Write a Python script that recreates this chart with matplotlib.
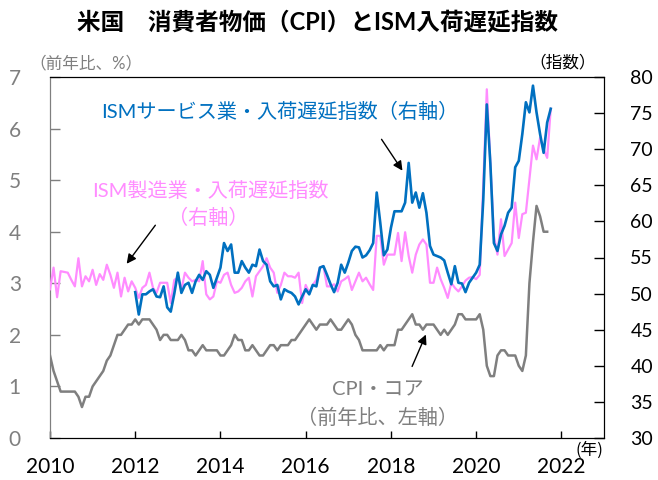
import matplotlib
matplotlib.use("Agg")
import matplotlib.pyplot as plt
import numpy as np

plt.rcParams['font.family'] = ['Lato', 'Noto Sans CJK JP', 'DejaVu Sans']

# monthly data, first point = Jan of start year
cpi_start = 2010
cpi_core = [1.6, 1.3, 1.1, 0.9, 0.9, 0.9, 0.9, 0.9, 0.8, 0.6, 0.8, 0.8,
            1.0, 1.1, 1.2, 1.3, 1.5, 1.6, 1.8, 2.0, 2.0, 2.1, 2.2, 2.2,
            2.3, 2.2, 2.3, 2.3, 2.3, 2.2, 2.1, 1.9, 2.0, 2.0, 1.9, 1.9,
            1.9, 2.0, 1.9, 1.7, 1.7, 1.6, 1.7, 1.8, 1.7, 1.7, 1.7, 1.7,
            1.6, 1.6, 1.7, 1.8, 2.0, 1.9, 1.9, 1.7, 1.7, 1.8, 1.7, 1.6,
            1.6, 1.7, 1.8, 1.8, 1.7, 1.8, 1.8, 1.8, 1.9, 1.9, 2.0, 2.1,
            2.2, 2.3, 2.2, 2.1, 2.2, 2.2, 2.2, 2.3, 2.2, 2.1, 2.1, 2.2,
            2.3, 2.2, 2.0, 1.9, 1.7, 1.7, 1.7, 1.7, 1.7, 1.8, 1.7, 1.8,
            1.8, 1.8, 2.1, 2.1, 2.2, 2.3, 2.4, 2.2, 2.2, 2.1, 2.2, 2.2,
            2.2, 2.1, 2.0, 2.1, 2.0, 2.1, 2.2, 2.4, 2.4, 2.3, 2.3, 2.3,
            2.3, 2.4, 2.1, 1.4, 1.2, 1.2, 1.6, 1.7, 1.7, 1.6, 1.6, 1.6,
            1.4, 1.3, 1.6, 3.0, 3.8, 4.5, 4.3, 4.0, 4.0]

mfg_start = 2010
ism_mfg = [50.6, 53.6, 49.5, 53.1, 53.0, 52.9, 51.9, 51.0, 54.9, 51.0, 52.4, 51.7,
           53.3, 51.2, 52.7, 51.9, 54.0, 52.6, 50.8, 52.9, 49.6, 52.2, 50.3, 51.7,
           50.8, 49.4, 50.8, 51.2, 52.9, 50.8, 50.1, 51.5, 51.5, 51.5, 48.7, 51.9,
           52.2, 50.6, 52.9, 52.2, 51.7, 51.9, 51.7, 54.5, 49.9, 49.2, 49.6, 51.7,
           51.5, 52.6, 52.9, 51.2, 50.1, 50.3, 50.8, 51.7, 52.2, 49.6, 52.4, 53.1,
           53.8, 54.9, 53.6, 52.9, 50.1, 51.2, 52.9, 52.4, 52.4, 52.2, 52.9, 48.7,
           51.2, 50.1, 51.2, 51.9, 53.6, 53.8, 51.0, 51.0, 51.3, 50.3, 51.7, 52.0,
           52.4, 50.5, 51.7, 52.9, 51.7, 52.2, 51.3, 50.5, 58.0, 58.0, 54.0, 55.4,
           55.4, 55.4, 58.4, 54.5, 58.5, 55.2, 52.9, 55.4, 56.8, 57.5, 56.8, 51.5,
           51.5, 53.6, 52.0, 50.8, 49.4, 51.5, 50.8, 50.3, 51.0, 51.8, 52.2, 52.3,
           52.0, 52.6, 65.0, 78.3, 68.0, 58.0, 55.4, 60.3, 55.2, 56.1, 57.0, 62.6,
           57.7, 61.0, 61.2, 65.8, 70.5, 68.6, 71.6, 70.0, 68.8, 75.6]

svc_start = 2012
ism_svc = [50.2, 47.1, 49.9, 49.9, 50.3, 50.6, 49.6, 49.5, 51.0, 48.1, 47.5, 50.0,
           52.9, 50.1, 51.2, 51.5, 50.1, 51.7, 52.6, 51.9, 53.1, 52.6, 50.8, 52.2,
           53.6, 57.0, 55.9, 56.8, 52.9, 52.9, 54.5, 53.6, 52.9, 54.0, 53.8, 56.1,
           54.5, 54.0, 51.7, 51.0, 51.2, 49.2, 50.6, 50.3, 50.1, 49.6, 48.5, 49.6,
           50.6, 49.9, 51.2, 51.0, 53.6, 53.8, 52.6, 51.3, 50.2, 51.5, 54.0, 52.9,
           54.3, 55.9, 56.5, 56.4, 55.0, 55.3, 56.0, 57.0, 64.0, 59.8, 55.3, 56.1,
           59.1, 61.4, 61.4, 61.4, 62.6, 68.1, 62.6, 64.0, 61.9, 63.9, 61.2, 56.6,
           55.4, 55.2, 55.0, 54.6, 52.9, 51.3, 53.8, 51.5, 51.4, 50.2, 51.5, 52.2,
           52.9, 54.0, 63.0, 76.2, 68.0, 57.0, 55.9, 58.2, 59.4, 61.2, 61.9, 67.5,
           68.4, 72.1, 76.5, 75.1, 78.8, 75.1, 72.1, 69.5, 73.7, 75.6]

x_cpi = cpi_start + np.arange(len(cpi_core)) / 12
x_mfg = mfg_start + np.arange(len(ism_mfg)) / 12
x_svc = svc_start + np.arange(len(ism_svc)) / 12

BLUE = '#0070C0'
PINK = '#FF8CFF'
GRAY = '#7F7F7F'

fig = plt.figure(figsize=(6.58, 4.8), dpi=100)
ax = fig.add_axes([50/658, 42/480, 554/658, 361/480])
ax2 = ax.twinx()

ax.plot(x_cpi, cpi_core, color=GRAY, lw=1.8, zorder=3)
ax2.plot(x_mfg, ism_mfg, color=PINK, lw=1.6, zorder=3)
ax2.plot(x_svc, ism_svc, color=BLUE, lw=1.9, zorder=4)

ax.set_xlim(2010, 2023)
ax.set_ylim(0, 7)
ax2.set_ylim(30, 80)
ax.set_xticks(range(2010, 2023, 2))
ax.set_yticks(range(0, 8))
ax2.set_yticks(range(30, 81, 5))

ax.tick_params(axis='y', direction='in', length=7, width=1, colors=GRAY,
               labelsize=15, pad=21)
ax.tick_params(axis='x', direction='in', length=5, width=1, colors='black',
               labelsize=15, pad=14)
ax2.tick_params(axis='y', direction='in', length=7, width=1, colors='black',
                labelsize=14, pad=19)
ax.spines['left'].set_color(GRAY)
ax2.spines['left'].set_color(GRAY)
for s in ['top', 'right', 'bottom']:
    ax2.spines[s].set_color('black')

fig.text(0.483, 0.953, '米国　消費者物価（CPI）とISM入荷遅延指数',
         ha='center', va='center', fontsize=17, fontweight='bold')
fig.text(0.13, 0.867, '（前年比、%）', ha='center', va='center', fontsize=12, color=GRAY)
fig.text(0.855, 0.87, '（指数）', ha='center', va='center', fontsize=12, color='black')
fig.text(589/658, (480-450)/480, '(年)', ha='center', va='center', fontsize=12,
         color='black', family='Noto Sans CJK JP')

ax.text(0.415, 0.905, 'ISMサービス業・入荷遅延指数（右軸）', transform=ax.transAxes,
        ha='center', va='center', fontsize=14.5, color=BLUE)
ax.text(0.29, 0.685, 'ISM製造業・入荷遅延指数', transform=ax.transAxes,
        ha='center', va='center', fontsize=14.5, color=PINK)
ax.text(0.285, 0.61, '（右軸）', transform=ax.transAxes,
        ha='center', va='center', fontsize=14.5, color=PINK)
ax.text(0.592, 0.133, 'CPI・コア', transform=ax.transAxes,
        ha='center', va='center', fontsize=14.5, color=GRAY)
ax.text(0.592, 0.058, '（前年比、左軸）', transform=ax.transAxes,
        ha='center', va='center', fontsize=14.5, color=GRAY)

arrow = dict(arrowstyle='-|>', color='black', lw=1, mutation_scale=14)
fig_h = 480
def px(x, y):
    return (x / 658, (fig_h - y) / fig_h)
ax.annotate('', xy=px(404, 173), xytext=px(380, 137), xycoords='figure fraction',
            textcoords='figure fraction', arrowprops=arrow)
ax.annotate('', xy=px(125, 266), xytext=px(157, 223), xycoords='figure fraction',
            textcoords='figure fraction', arrowprops=arrow)
ax.annotate('', xy=px(427, 332), xytext=px(411, 369), xycoords='figure fraction',
            textcoords='figure fraction', arrowprops=arrow)

fig.savefig('out.png', dpi=100)
